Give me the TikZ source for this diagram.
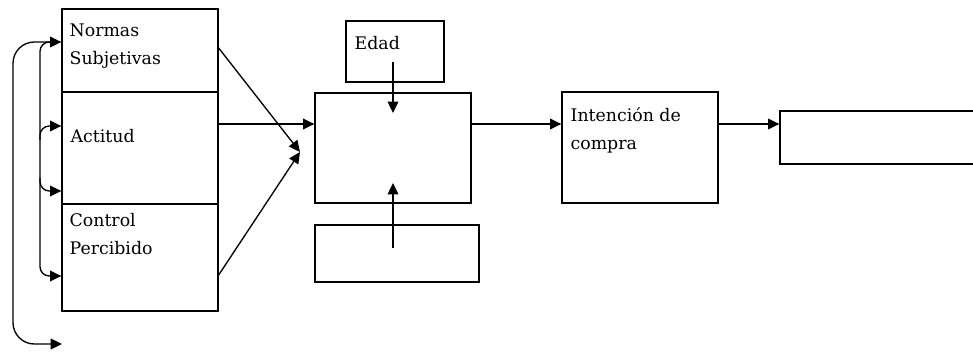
\documentclass[tikz,border=0pt]{standalone}
\usepackage{fontspec}
\setmainfont{DejaVu Serif}
\usetikzlibrary{arrows.meta}

\tikzset{every picture/.style={line width=1pt}}
\tikzset{
  box/.style 2 args={draw, rectangle, inner sep=0pt, minimum width=#1*0.75pt, minimum height=#2*0.75pt},
  lbl/.style={inner sep=0pt, align=left, font=\fontsize{13pt}{21pt}\selectfont},
  arr/.style={-{Triangle[length=8.5pt,width=8pt]}}
}

\begin{document}
\begin{tikzpicture}[x=0.75pt,y=0.75pt,yscale=-1,xscale=1]
	\useasboundingbox (0,0) rectangle (973,352);

	%Shape: Rectangle [stack]
	\node[box={156}{83}] (norm) at (140,50.5) {};
	\node[box={156}{112}] (act) at (140,148) {};
	\node[box={156}{107}] (ctrl) at (140,257.5) {};
	%Shape: Rectangle [middle]
	\node[box={98}{61}] (edad) at (395,51.5) {};
	\node[box={156}{110}] (mid) at (393,148) {};
	\node[box={164}{57}] (bot) at (397,253.5) {};
	%Shape: Rectangle [right]
	\node[box={156}{111}] (inten) at (640,147.5) {};
	\node[box={210}{53}] (last) at (885,137.5) {};

	% Text Node
	\node[lbl, anchor=base west] (tnorm) at (69,65) {Normas\\Subjetivas};
	% Text Node
	\node[lbl, anchor=base west] (tact) at (70,143) {Actitud};
	% Text Node
	\node[lbl, anchor=base west] (tctrl) at (69,255) {Control\\Percibido};
	% Text Node
	\node[lbl, anchor=base west] (tedad) at (354,50) {Edad};
	% Text Node
	\node[lbl, anchor=base west] (tint) at (570,150) {Intención de\\compra};

	\coordinate (row) at (0,124);
	\coordinate (meet) at (300,152);
	\coordinate (fin) at (62,344);

	%Straight Lines
	\draw[arr] (norm.east |- 0,48) -- (meet);
	\draw[arr] (ctrl.east |- 0,275) -- (meet);
	\draw[arr] (act.east |- row) -- (mid.west |- row);
	\draw[arr] (mid.east |- row) -- (inten.west |- row);
	\draw[arr] (inten.east |- row) -- (last.west |- row);
	\draw[arr] (mid.center |- 0,62) -- (mid.center |- 0,113);
	\draw[arr] (mid.center |- 0,248) -- (mid.center |- 0,183);

	%Curve Lines
	\draw[arr, rounded corners=7pt] (40,262) |- (norm.west |- 0,42);
	\draw[arr, rounded corners=7pt] (40,262) |- (ctrl.west |- 0,276);
	\draw[arr, rounded corners=7pt] (40,140) |- (act.west |- 0,126);
	\draw[arr, rounded corners=7pt] (40,178) |- (act.west |- 0,191);
	\draw[arr, rounded corners=16pt] (50,42) -| (13,200) |- (fin);

\end{tikzpicture}
\end{document}
